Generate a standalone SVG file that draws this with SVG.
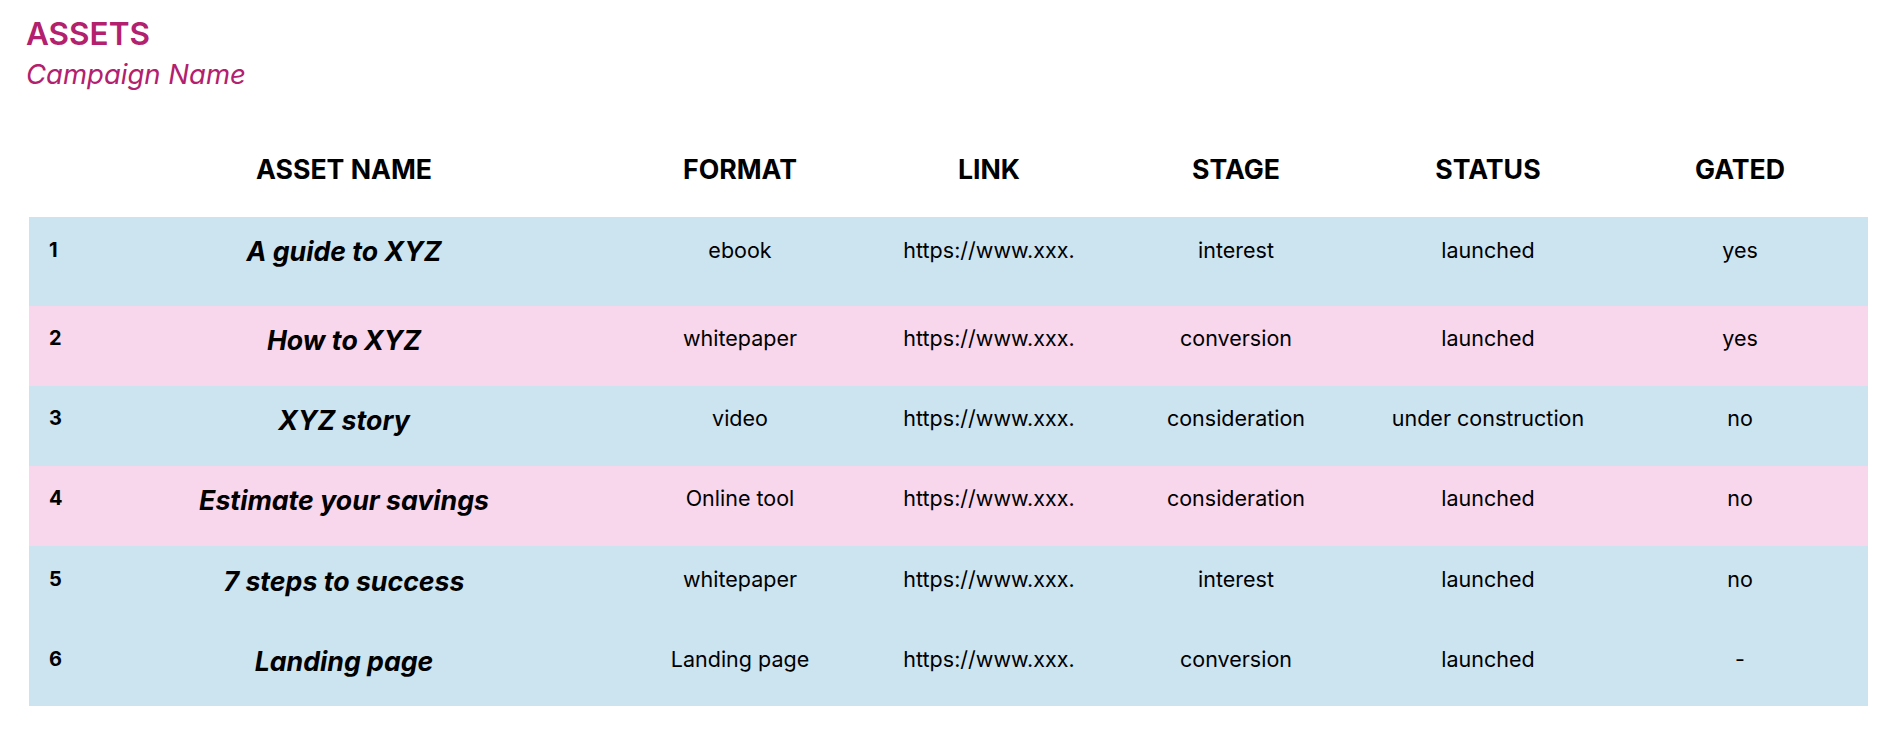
<svg xmlns="http://www.w3.org/2000/svg" width="1895" height="738" viewBox="0 0 1895 738">
<style>
text{font-family:Inter,"Liberation Sans",sans-serif;fill:#000}
.t{fill:#b3206d;font-weight:600;font-size:31.5px}
.s{fill:#b3206d;font-style:italic;font-size:27.5px}
.h{font-weight:700;font-size:26.7px;text-anchor:middle}
.n{font-weight:700;font-size:20px}
.a{font-weight:700;font-style:italic;font-size:26.7px;text-anchor:middle}
.d{font-size:21.5px;text-anchor:middle}
.b{fill:#cce3f0}.p{fill:#f8d6eb}
</style>
<rect width="1895" height="738" fill="#fff"/>
<text class="t" x="26" y="45">ASSETS</text>
<text class="s" x="26" y="84">Campaign Name</text>
<g id="header">
<text class="h" x="344" y="179">ASSET NAME</text>
<text class="h" x="740" y="179">FORMAT</text>
<text class="h" x="989" y="179">LINK</text>
<text class="h" x="1236" y="179">STAGE</text>
<text class="h" x="1488" y="179">STATUS</text>
<text class="h" x="1740" y="179">GATED</text>
</g>
<g id="row1"><rect class="b" x="29" y="217" width="1839" height="89"/>
<text class="n" x="49" y="257">1</text><text class="a" x="344" y="261">A guide to XYZ</text>
<text class="d" x="740" y="258">ebook</text><text class="d" x="989" y="258">https://www.xxx.</text><text class="d" x="1236" y="258">interest</text><text class="d" x="1488" y="258">launched</text><text class="d" x="1740" y="258">yes</text></g>
<g id="row2"><rect class="p" x="29" y="306" width="1839" height="80"/>
<text class="n" x="49" y="345">2</text><text class="a" x="344" y="350">How to XYZ</text>
<text class="d" x="740" y="346">whitepaper</text><text class="d" x="989" y="346">https://www.xxx.</text><text class="d" x="1236" y="346">conversion</text><text class="d" x="1488" y="346">launched</text><text class="d" x="1740" y="346">yes</text></g>
<g id="row3"><rect class="b" x="29" y="386" width="1839" height="80"/>
<text class="n" x="49" y="425">3</text><text class="a" x="344" y="430">XYZ story</text>
<text class="d" x="740" y="426">video</text><text class="d" x="989" y="426">https://www.xxx.</text><text class="d" x="1236" y="426">consideration</text><text class="d" x="1488" y="426">under construction</text><text class="d" x="1740" y="426">no</text></g>
<g id="row4"><rect class="p" x="29" y="466" width="1839" height="80"/>
<text class="n" x="49" y="505">4</text><text class="a" x="344" y="510">Estimate your savings</text>
<text class="d" x="740" y="506">Online tool</text><text class="d" x="989" y="506">https://www.xxx.</text><text class="d" x="1236" y="506">consideration</text><text class="d" x="1488" y="506">launched</text><text class="d" x="1740" y="506">no</text></g>
<g id="row5"><rect class="b" x="29" y="546" width="1839" height="80"/>
<text class="n" x="49" y="586">5</text><text class="a" x="344" y="591">7 steps to success</text>
<text class="d" x="740" y="587">whitepaper</text><text class="d" x="989" y="587">https://www.xxx.</text><text class="d" x="1236" y="587">interest</text><text class="d" x="1488" y="587">launched</text><text class="d" x="1740" y="587">no</text></g>
<g id="row6"><rect class="b" x="29" y="626" width="1839" height="80"/>
<text class="n" x="49" y="666">6</text><text class="a" x="344" y="671">Landing page</text>
<text class="d" x="740" y="667">Landing page</text><text class="d" x="989" y="667">https://www.xxx.</text><text class="d" x="1236" y="667">conversion</text><text class="d" x="1488" y="667">launched</text><text class="d" x="1740" y="667">-</text></g>
<g id="connectors"/>
</svg>
